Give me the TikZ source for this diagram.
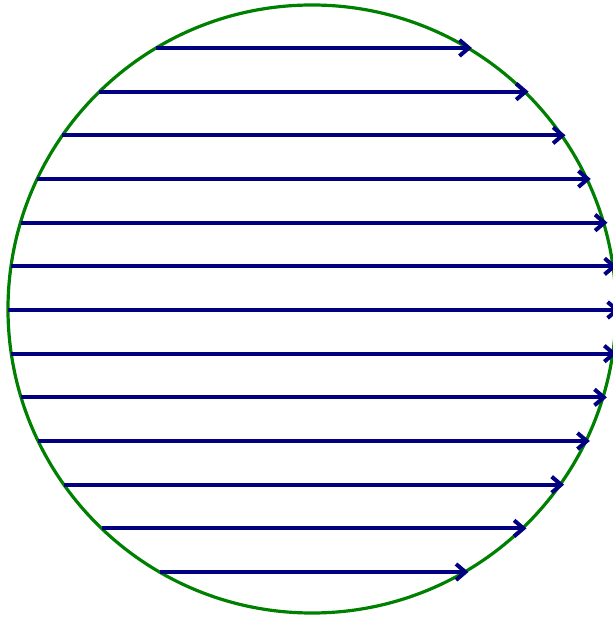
\documentclass[tikz,border=0pt]{standalone}
\usepackage{tikz}
\usetikzlibrary{arrows.meta}

\definecolor{rimgreen}{RGB}{0,128,0}
\definecolor{raynavy}{RGB}{0,0,128}

\begin{document}
\begin{tikzpicture}[
  x=0.75pt,y=0.75pt,
  rim/.style={draw=rimgreen,line width=2.4pt},
  ray/.style={draw=raynavy,line width=3pt,shorten >=-3pt,-{Straight Barb[length=7pt,width=12pt]}}
]
\useasboundingbox (-312,-311) rectangle (300,309);
\coordinate (centre) at (0,0);
\draw[rim] (centre) circle (304);

\foreach \k in {-6,...,6} {
  \pgfmathsetmacro\dy{43.67*\k-1}
  \pgfmathsetmacro\dx{304*sqrt(1-(\dy/304)^2)}
  \coordinate (in\k) at (-\dx,\dy);
  \coordinate (out\k) at (\dx,\dy);
  \draw[ray] (in\k) -- (out\k);
}
\end{tikzpicture}
\end{document}
